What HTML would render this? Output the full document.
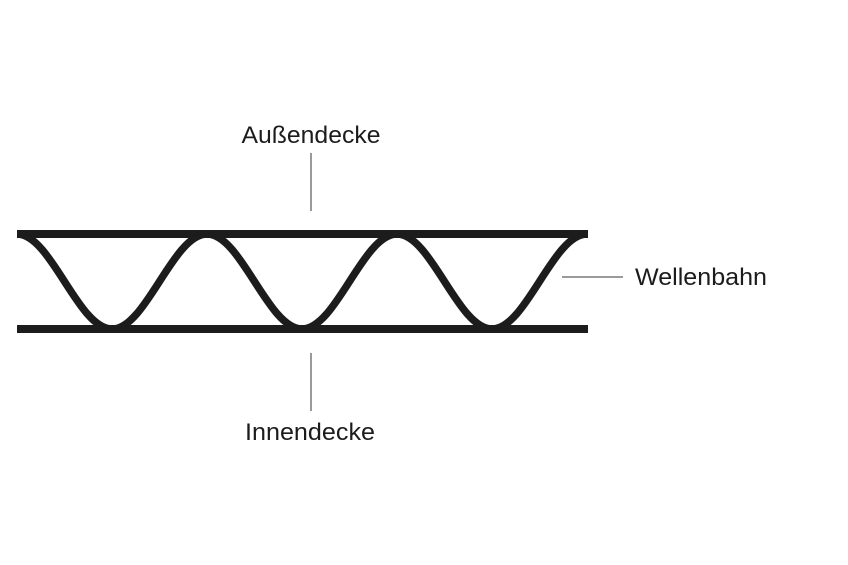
<!DOCTYPE html>
<html>
<head>
<meta charset="utf-8">
<style>
  html, body { margin: 0; padding: 0; background: #fff; }
  body { width: 848px; height: 565px; overflow: hidden; }
  svg { display: block; }
  text { font-family: "Liberation Sans", sans-serif; font-size: 24px; fill: #1c1c1c; }
</style>
</head>
<body>
<svg width="848" height="565" viewBox="0 0 848 565" xmlns="http://www.w3.org/2000/svg">
  <rect width="848" height="565" fill="#fff"/>
  <!-- wave -->
  <path d="M17,234 C51.2,234 77.8,329 112,329 S172.8,234 207,234 S267.8,329 302,329 S362.8,234 397,234 S457.8,329 492,329 S552.8,234 587,234"
        fill="none" stroke="#1c1c1c" stroke-width="7.5"/>
  <!-- top and bottom liners -->
  <rect x="17" y="230" width="571" height="8" fill="#1c1c1c"/>
  <rect x="17" y="325" width="571" height="8" fill="#1c1c1c"/>
  <!-- leader lines -->
  <line x1="311" y1="153" x2="311" y2="211" stroke="#9a9a9a" stroke-width="2"/>
  <line x1="311" y1="353" x2="311" y2="411" stroke="#9a9a9a" stroke-width="2"/>
  <line x1="562" y1="277" x2="623" y2="277" stroke="#9a9a9a" stroke-width="2"/>
  <!-- labels -->
  <text x="311" y="143" text-anchor="middle" textLength="139" lengthAdjust="spacingAndGlyphs">Außendecke</text>
  <text x="310" y="440" text-anchor="middle" textLength="130" lengthAdjust="spacingAndGlyphs">Innendecke</text>
  <text x="635" y="285" textLength="132" lengthAdjust="spacingAndGlyphs">Wellenbahn</text>
</svg>
</body>
</html>
